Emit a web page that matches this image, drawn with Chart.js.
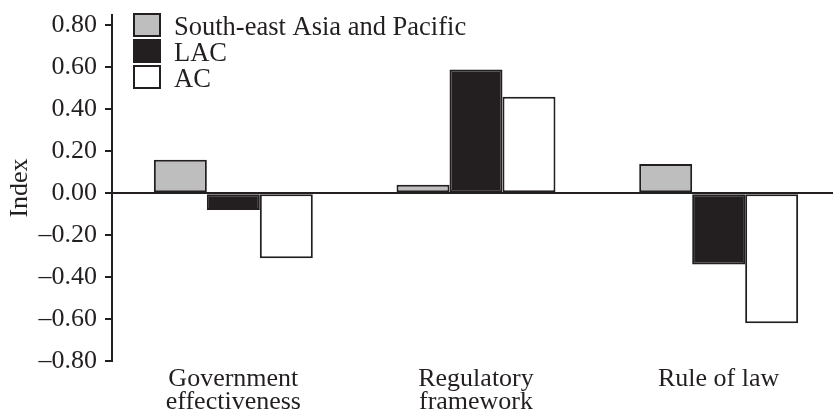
<!DOCTYPE html>
<html>
<head>
<meta charset="utf-8">
<script src="https://cdn.jsdelivr.net/npm/chart.js@4.4.1/dist/chart.umd.min.js"></script>
<style>
    html, body { margin: 0; padding: 0; background: #fff; overflow: hidden; }
    #wrap { width: 833px; height: 414px; overflow: hidden; }
</style>
</head>
<body>
<div id="wrap"><canvas id="barChart" width="845" height="414"></canvas></div>
<script>
'use strict';

// カテゴリ（複数行ラベル）
const categories = [['Government', 'effectiveness'], ['Regulatory', 'framework'], 'Rule of law'];
// 系列名
const seriesNames = ['South-east Asia and Pacific', 'LAC', 'AC'];
// 各系列の指数
const seaValues = [0.16, 0.04, 0.14];
const lacValues = [-0.08, 0.59, -0.34];
const acValues = [-0.31, 0.46, -0.62];
// Y軸の目盛り
const yTickValues = [-0.8, -0.6, -0.4, -0.2, 0, 0.2, 0.4, 0.6, 0.8];

// 色とフォント
const INK = '#231f20';
const FONT = '"Liberation Serif", "Times New Roman", serif';

/**
 * 棒グラフのデータセット生成
 * @param string label 系列名
 * @param array data 値
 * @param string color 塗りつぶし色
 */
function createBarData(label, data, color) {
    return {
        label: label,
        data: data,
        backgroundColor: color,
        borderColor: INK,
        borderWidth: 2,
        borderSkipped: false,
        barPercentage: 1,
        categoryPercentage: 0.655
    };
}

/**
 * 負の値はダッシュ付きで表示
 * @param number value 目盛りの値
 */
function formatTick(value) {
    const text = Math.abs(value).toFixed(2);
    return value < 0 ? '\u2013' + text : text;
}

// 凡例（グラフ領域の左上に縦並び）
const boxLegend = {
    id: 'boxLegend',
    afterDraw(chart) {
        const ctx = chart.ctx;
        ctx.save();
        ctx.font = `26.5px ${FONT}`;
        ctx.textBaseline = 'alphabetic';
        ctx.textAlign = 'left';
        chart.data.datasets.forEach((ds, i) => {
            const top = 14 + i * 26;
            ctx.fillStyle = ds.backgroundColor;
            ctx.fillRect(134, top, 26, 22);
            ctx.strokeStyle = INK;
            ctx.lineWidth = 2;
            ctx.strokeRect(134, top, 26, 22);
            ctx.fillStyle = INK;
            ctx.fillText(ds.label, 174, top + 21);
        });
        ctx.restore();
    }
};

const barConfig = {
    type: 'bar',
    data: {
        labels: categories,
        datasets: [
            createBarData(seriesNames[0], seaValues, '#bebebe'),
            createBarData(seriesNames[1], lacValues, INK),
            createBarData(seriesNames[2], acValues, '#ffffff')
        ]
    },
    options: {
        responsive: false,
        animation: false,
        devicePixelRatio: 1,
        layout: {
            padding: { top: 15, right: 5, bottom: 0, left: 0 }
        },
        plugins: {
            legend: { display: false },
            tooltip: { enabled: false }
        },
        scales: {
            x: {
                grid: { display: false, drawTicks: false },
                border: { display: false },
                ticks: {
                    color: INK,
                    font: { family: FONT, size: 26, lineHeight: 0.9 },
                    padding: 6,
                    maxRotation: 0,
                    autoSkip: false
                },
                afterFit: scale => { scale.height = 53; }
            },
            y: {
                min: -0.8,
                max: 0.85,
                afterBuildTicks: scale => {
                    scale.ticks = yTickValues.map(v => ({ value: v }));
                },
                grid: {
                    color: ctx => (ctx.tick && ctx.tick.value === 0 ? INK : 'rgba(0,0,0,0)'),
                    tickColor: INK,
                    lineWidth: 2,
                    tickLength: 7
                },
                border: { display: true, color: INK, width: 2 },
                ticks: {
                    color: INK,
                    font: { family: FONT, size: 26, lineHeight: 0.4 },
                    padding: 8,
                    callback: value => formatTick(value)
                },
                title: {
                    display: true,
                    text: 'Index',
                    color: INK,
                    font: { family: FONT, size: 26, lineHeight: 1 },
                    padding: { top: 7, bottom: 0 }
                },
                afterFit: scale => { scale.width = 112; }
            }
        }
    },
    plugins: [boxLegend]
};

const barCtx = document.getElementById('barChart');
const barChart = new Chart(barCtx, barConfig);
</script>
</body>
</html>
